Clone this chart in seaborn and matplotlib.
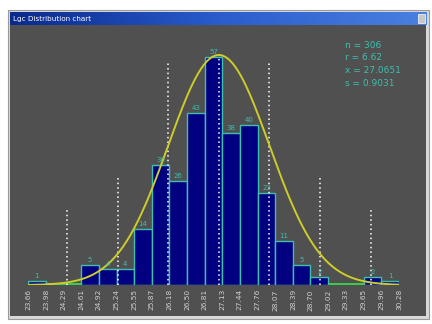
import numpy as np
import pandas as pd
import seaborn as sns
import matplotlib
matplotlib.use("Agg")
import matplotlib.pyplot as plt
from matplotlib.patches import Rectangle
from matplotlib.colors import LinearSegmentedColormap

# bin edges as printed under the axis
edge_labels = ["23.66", "23.98", "24.29", "24.61", "24.92", "25.24", "25.55",
               "25.87", "26.18", "26.50", "26.81", "27.13", "27.44", "27.76",
               "28.07", "28.39", "28.70", "29.02", "29.33", "29.65", "29.96",
               "30.28"]
counts = [1, 0, 0, 5, 4, 4, 14, 30, 26, 43, 57, 38, 40, 23, 11, 5, 2, 0, 0, 2, 1]

n_val = 306
r_val = 6.62
mean_val = 27.0651
s_val = 0.9031
curve_peak = 57.5
sigma_steps = [-3, -2, -1, 0, 1, 2, 3]
guide_tops = [19, 27, 56, 58, 56, 27, 19]

W, H = 432, 324
BG = "#505050"
TEAL = "#3cbfae"

edges = [float(t) for t in edge_labels]
centers = [(a + b) / 2 for a, b in zip(edges[:-1], edges[1:])]
df = pd.DataFrame({"center": centers, "count": counts})

fig = plt.figure(figsize=(W / 100, H / 100), dpi=100, facecolor="white")

def px(x0, y0, x1, y1):
    return [x0 / W, 1 - y1 / H, (x1 - x0) / W, (y1 - y0) / H]

# window frame
fig.patches.append(Rectangle((8 / W, 1 - 319 / H), 421 / W, 309 / H,
                             transform=fig.transFigure, facecolor="#d8d8d8",
                             edgecolor="#9a9a9a", linewidth=0.8, zorder=-5))

# title bar
ax_t = fig.add_axes(px(10, 12, 427, 25))
grad = LinearSegmentedColormap.from_list("tb", ["#0a2a8c", "#2a5ccc", "#4a80e0"])
ax_t.imshow(np.linspace(0, 1, 256)[None, :], aspect="auto", cmap=grad,
            extent=[0, 1, 0, 1])
ax_t.set_xlim(0, 1)
ax_t.set_ylim(0, 1)
ax_t.axis("off")
ax_t.text(0.008, 0.5, "Lgc Distribution chart", color="white", fontsize=5.2,
          va="center", ha="left")
ax_t.add_patch(Rectangle((0.978, 0.15), 0.017, 0.7, facecolor="#c8c8c8",
                         edgecolor="white", linewidth=0.5))

# chart background
ax_bg = fig.add_axes(px(10, 25, 426, 316))
ax_bg.set_facecolor(BG)
ax_bg.set_xticks([])
ax_bg.set_yticks([])
for sp in ax_bg.spines.values():
    sp.set_visible(False)

# plotting area
ax = fig.add_axes(px(28, 45, 399, 285))
ax.patch.set_alpha(0)
for sp in ax.spines.values():
    sp.set_visible(False)

ax.plot([edges[0], edges[-1]], [0.25, 0.25], color="#3ccc3c", lw=2.2, zorder=1)

sns.histplot(data=df, x="center", weights="count", bins=edges, ax=ax,
             color="#000080", edgecolor=TEAL, linewidth=1.0, alpha=1,
             zorder=2)

for c, v in zip(centers, counts):
    if v > 0:
        ax.text(c, v + 0.6, str(v), ha="center", va="bottom", color=TEAL,
                fontsize=5, zorder=5)

for k, top in zip(sigma_steps, guide_tops):
    xk = mean_val + k * s_val
    ax.plot([xk, xk], [0, top], color="white", lw=1.1,
            linestyle=(0, (1, 2)), zorder=3)

xs = np.linspace(edges[0], edges[-1], 400)
ys = curve_peak * np.exp(-0.5 * ((xs - mean_val) / s_val) ** 2)
sns.lineplot(x=xs, y=ys, ax=ax, color="#cccc2a", lw=1.4, zorder=4)

ax.set_xlim(edges[0], edges[-1])
ax.set_ylim(0, 60)
ax.set_yticks([])
ax.set_xticks(edges)
ax.set_xticklabels(edge_labels, rotation=90, color="#d0d0d0", fontsize=5.3)
ax.tick_params(axis="x", length=0, pad=3)
ax.set_xlabel("")
ax.set_ylabel("")

stats = [f"n = {n_val}", f"r = {r_val}", f"x = {mean_val}", f"s = {s_val}"]
for i, t in enumerate(stats):
    fig.text(345 / W, 1 - (45 + i * 12.7) / H, t, color=TEAL, fontsize=6.5,
             va="center", ha="left")

fig.savefig("out.png", dpi=100, facecolor="white")
